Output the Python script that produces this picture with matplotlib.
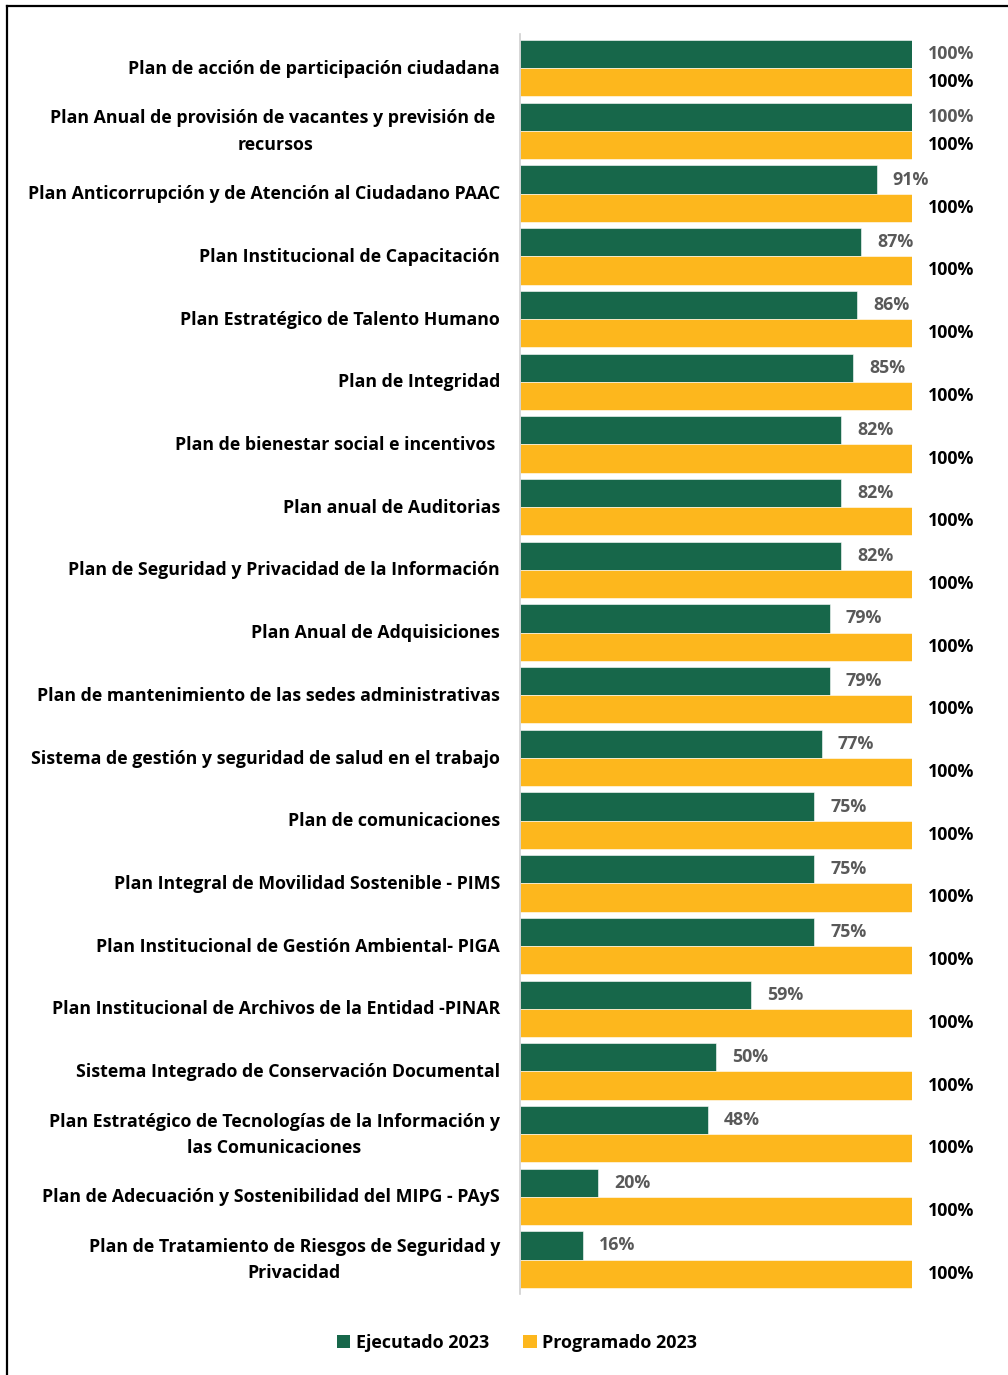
import matplotlib
matplotlib.use("Agg")
import matplotlib.pyplot as plt
from matplotlib.lines import Line2D
from matplotlib.patches import Patch
import numpy as np

plt.rcParams['font.family'] = ['Open Sans', 'DejaVu Sans']

categories = [
    "Plan de acción de participación ciudadana",
    "Plan Anual de provisión de vacantes y previsión de \nrecursos",
    "Plan Anticorrupción y de Atención al Ciudadano PAAC",
    "Plan Institucional de Capacitación",
    "Plan Estratégico de Talento Humano",
    "Plan de Integridad",
    "Plan de bienestar social e incentivos ",
    "Plan anual de Auditorias",
    "Plan de Seguridad y Privacidad de la Información",
    "Plan Anual de Adquisiciones",
    "Plan de mantenimiento de las sedes administrativas",
    "Sistema de gestión y seguridad de salud en el trabajo",
    "Plan de comunicaciones",
    "Plan Integral de Movilidad Sostenible - PIMS",
    "Plan Institucional de Gestión Ambiental- PIGA",
    "Plan Institucional de Archivos de la Entidad -PINAR",
    "Sistema Integrado de Conservación Documental",
    "Plan Estratégico de Tecnologías de la Información y\nlas Comunicaciones",
    "Plan de Adecuación y Sostenibilidad del MIPG - PAyS",
    "Plan de Tratamiento de Riesgos de Seguridad y\nPrivacidad",
]
ejecutado = [100, 100, 91, 87, 86, 85, 82, 82, 82, 79, 79, 77, 75, 75, 75, 59, 50, 48, 20, 16]
programado = [100] * 20
series_names = ["Ejecutado 2023", "Programado 2023"]

GREEN = "#17674A"
YELLOW = "#FDB71D"

fig = plt.figure(figsize=(10.08, 13.75), dpi=100)
ax = fig.add_axes([520/1008, 1 - 1294/1375, (912-520)/1008, (1294-33.8)/1375])

n = len(categories)
y = np.arange(n)
h = 0.45
ax.barh(y - h/2, [v/100 for v in ejecutado], height=h, color=GREEN, edgecolor="white", linewidth=0.4)
ax.barh(y + h/2, [v/100 for v in programado], height=h, color=YELLOW, edgecolor="white", linewidth=0.4)

ax.set_xlim(0, 1.0)
ax.set_ylim(n - 1 + 0.55, -0.55)
ax.set_xticks([])
ax.set_yticks([])
for s in ["top", "right", "bottom"]:
    ax.spines[s].set_visible(False)
ax.spines["left"].set_color("#D0D0D0")
ax.spines["left"].set_linewidth(1.2)

off = 16/392
for i in range(n):
    ax.text(ejecutado[i]/100 + off, y[i] - h/2, f"{ejecutado[i]}%", va="center", ha="left",
            fontsize=12.8, fontweight="bold", color="#595959", clip_on=False)
    ax.text(programado[i]/100 + off, y[i] + h/2, f"{programado[i]}%", va="center", ha="left",
            fontsize=12.8, fontweight="bold", color="black", clip_on=False)
    ax.text(-20/392, y[i] + 0.01, categories[i], va="center", ha="right", multialignment="center",
            fontsize=12.8, fontweight="bold", color="black", clip_on=False, linespacing=1.6)

handles = [Patch(facecolor=GREEN), Patch(facecolor=YELLOW)]
fig.legend(handles, series_names, loc="center", bbox_to_anchor=(517/1008, 1 - 1343/1375), ncol=2,
           frameon=False, prop={"size": 12.9, "weight": "bold"}, handlelength=0.75, handleheight=0.75,
           handletextpad=0.3, columnspacing=1.9)

fig.add_artist(Line2D([7/1008, 7/1008], [0, 1 - 6/1375], transform=fig.transFigure, color="black", linewidth=1.6))
fig.add_artist(Line2D([7/1008, 1], [1 - 6/1375, 1 - 6/1375], transform=fig.transFigure, color="black", linewidth=1.6))

fig.savefig("out.png", dpi=100)
